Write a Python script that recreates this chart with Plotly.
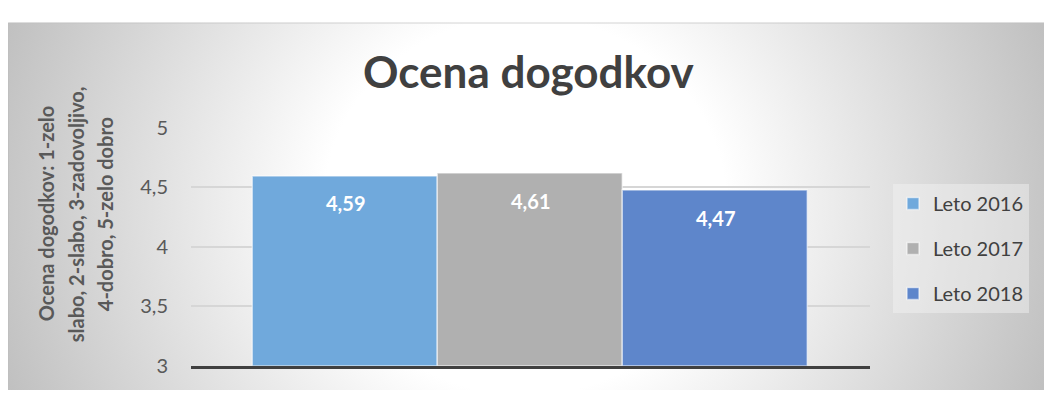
import base64
import plotly.graph_objects as go

# ---- data ----
categories = ["Leto 2016", "Leto 2017", "Leto 2018"]
values = [4.59, 4.61, 4.47]
value_labels = ["4,59", "4,61", "4,47"]
colors = ["#70A9DC", "#B0B0B0", "#5E86CB"]
tick_vals = [3, 3.5, 4, 4.5, 5]
tick_text = ["3", "3,5", "4", "4,5", "5"]
title_text = "Ocena dogodkov"
ytitle_lines = ["Ocena dogodkov: 1-zelo", "slabo, 2-slabo, 3-zadovoljivo,", "4-dobro, 5-zelo dobro"]

W, H = 1044, 401
FONT = "Lato"

# background: radial gradient panel (chart area) with top/left border
bx, by = 8, 10
bw, bh = W - bx, H - by
svg = f'''<svg xmlns="http://www.w3.org/2000/svg" width="{bw}" height="{bh}" viewBox="0 0 {bw} {bh}" preserveAspectRatio="none">
<defs><radialGradient id="g" gradientUnits="userSpaceOnUse" cx="{525-bx}" cy="{205-by}" r="575">
<stop offset="0" stop-color="#ffffff"/><stop offset="0.35" stop-color="#ffffff"/><stop offset="1" stop-color="#bcbcbc"/>
</radialGradient></defs>
<rect x="0" y="0" width="{bw}" height="{bh}" fill="url(#g)"/>
<path d="M0.5,{bh} V0.5 H{bw}" stroke="#bfbfbf" stroke-width="1" fill="none"/>
</svg>'''
src = "data:image/svg+xml;base64," + base64.b64encode(svg.encode()).decode()

fig = go.Figure()
for cat, val, col in zip(categories, values, colors):
    fig.add_trace(go.Bar(
        x=[cat], y=[val], name=cat, legendgroup=cat,
        marker=dict(color=col, line=dict(color="rgba(255,255,255,0.55)", width=1.5)),
        hoverinfo="skip",
    ))

annotations = []
for cat, val, lab in zip(categories, values, value_labels):
    annotations.append(dict(
        x=cat, y=val, xref="x", yref="y", text=f"<b>{lab}</b>", showarrow=False,
        yshift=-27, font=dict(family=FONT, size=20, color="#ffffff"),
    ))

# y-axis title lines
line_x = [46, 76, 105]
for lx, txt in zip(line_x, ytitle_lines):
    annotations.append(dict(
        x=lx / W, y=1 - 214 / H, xref="paper", yref="paper", text=f"<b>{txt}</b>",
        showarrow=False, textangle=-90, xanchor="center", yanchor="middle",
        font=dict(family=FONT, size=20, color="#595959"),
    ))

# title
annotations.append(dict(
    x=529 / W, y=1 - 62 / H, xref="paper", yref="paper", text=f"<b>{title_text}</b>",
    showarrow=False, xanchor="center", yanchor="middle",
    font=dict(family=FONT, size=44, color="#404040"),
))

fig.update_layout(
    width=W, height=H,
    margin=dict(l=0, r=0, t=0, b=0),
    paper_bgcolor="#ffffff", plot_bgcolor="rgba(0,0,0,0)",
    barmode="overlay", bargap=0,
    images=[dict(source=src, xref="paper", yref="paper", x=bx / W, y=1 - by / H,
                 sizex=bw / W, sizey=bh / H, xanchor="left", yanchor="top",
                 sizing="stretch", layer="below")],
    xaxis=dict(domain=[191 / W, 870 / W], range=[-0.835, 2.835], showticklabels=False,
               showgrid=False, zeroline=False, showline=True, linecolor="#404040", linewidth=3,
               ticks="", fixedrange=True),
    yaxis=dict(domain=[1 - 375 / H, 1 - 122 / H], range=[3, 5], tickvals=tick_vals, ticktext=tick_text,
               showgrid=True, gridcolor="#d6d6d6", gridwidth=2, zeroline=False, showline=False,
               ticks="", ticklabelstandoff=22,
               tickfont=dict(family=FONT, size=20, color="#595959"), fixedrange=True),
    legend=dict(x=893 / W, y=1 - 182 / H, xanchor="left", yanchor="top",
                bgcolor="rgba(245,245,245,0.45)", borderwidth=0,
                font=dict(family=FONT, size=20, color="#404040"),
                traceorder="grouped", tracegroupgap=16),
    showlegend=True,
    annotations=annotations,
)

post = ("document.documentElement.style.margin='0';document.body.style.margin='0';"
        "document.body.style.overflow='hidden';"
        "var d=document.getElementById('{plot_id}');"
        "d.style.position='fixed';d.style.left='0px';d.style.top='0px';")
fig.write_html("out.html", post_script=post, config={"displayModeBar": False})
